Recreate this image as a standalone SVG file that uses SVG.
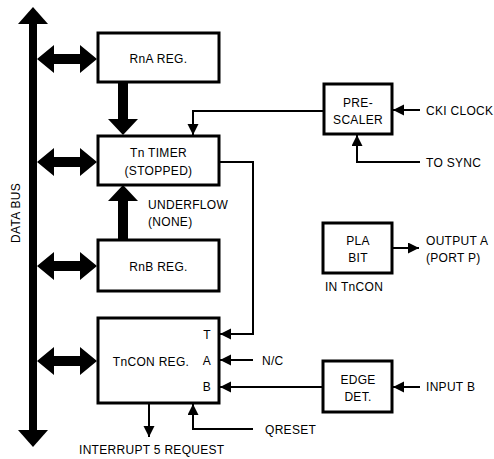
<svg xmlns="http://www.w3.org/2000/svg" width="494" height="459" viewBox="0 0 494 459">
<defs>
<marker id="ah" markerUnits="userSpaceOnUse" markerWidth="12" markerHeight="12" refX="11" refY="5.5" orient="auto">
<path d="M0,0 L11,5.5 L0,11 z" fill="#000"/>
</marker>
<style>
.box{fill:#fff;stroke:#000;stroke-width:3}
.ln{fill:none;stroke:#000;stroke-width:2}
.ar{fill:none;stroke:#000;stroke-width:2;marker-end:url(#ah)}
.t{font-family:"Liberation Sans",Arial,sans-serif;font-size:12px;fill:#000;letter-spacing:0.3px}
.c{text-anchor:middle}
.thick{fill:#000}
</style>
</defs>
<rect width="494" height="459" fill="#fff"/>

<g id="databus">
<rect x="29" y="22" width="8" height="410" class="thick"/>
<polygon points="33,7 48,24 18,24" class="thick"/>
<polygon points="33,447 48,430 18,430" class="thick"/>
<text class="t c" transform="translate(20,213) rotate(-90)">DATA BUS</text>
</g>

<g id="connectors">
<polygon class="thick" points="37,59 54,45 54,54 80,54 80,45 97,59 80,73 80,64 54,64 54,73"/>
<polygon class="thick" points="37,162 54,148 54,157 80,157 80,148 97,162 80,176 80,167 54,167 54,176"/>
<polygon class="thick" points="37,266 54,252 54,261 80,261 80,252 97,266 80,280 80,271 54,271 54,280"/>
<polygon class="thick" points="37,361 54,347 54,356 80,356 80,347 97,361 80,375 80,366 54,366 54,375"/>
<polygon class="thick" points="118,83 128,83 128,119 138,119 123,135 108,119 118,119"/>
<polygon class="thick" points="118,239 128,239 128,201 138,201 123,185 108,201 118,201"/>
<path class="ar" d="M323,111 H193 V135"/>
<path class="ar" d="M220,162 H253 V334 H220"/>
<path class="ar" d="M253,360 H220"/>
<path class="ar" d="M322,387 H220"/>
<path class="ar" d="M420,110 H393"/>
<path class="ar" d="M420,162 H357 V135"/>
<path class="ar" d="M393,248 H419"/>
<path class="ar" d="M420,387 H393"/>
<path class="ar" d="M149,404 V437"/>
<path class="ar" d="M253,429 H193 V404"/>
</g>

<g id="rna">
<rect class="box" x="98" y="33" width="121" height="49"/>
<text class="t c" x="158.5" y="63">RnA REG.</text>
</g>

<g id="timer">
<rect class="box" x="98" y="136" width="121" height="49"/>
<text class="t c" x="158.5" y="157">Tn TIMER</text>
<text class="t c" x="158.5" y="175">(STOPPED)</text>
</g>

<g id="underflow">
<text class="t" x="148" y="209">UNDERFLOW</text>
<text class="t" x="148" y="226">(NONE)</text>
</g>

<g id="rnb">
<rect class="box" x="98" y="240" width="121" height="51"/>
<text class="t c" x="158.5" y="271">RnB REG.</text>
</g>

<g id="tncon">
<rect class="box" x="98" y="318" width="121" height="85"/>
<text class="t c" x="151" y="366">TnCON REG.</text>
<text class="t c" x="207" y="339">T</text>
<text class="t c" x="207" y="365">A</text>
<text class="t c" x="207" y="391">B</text>
</g>

<g id="prescaler">
<rect class="box" x="324" y="84" width="68" height="50"/>
<text class="t c" x="358" y="107">PRE-</text>
<text class="t c" x="358" y="124">SCALER</text>
</g>

<g id="pla">
<rect class="box" x="323" y="223" width="69" height="50"/>
<text class="t c" x="358" y="245">PLA</text>
<text class="t c" x="358" y="262">BIT</text>
<text class="t c" x="354" y="291">IN TnCON</text>
</g>

<g id="edge">
<rect class="box" x="323" y="361" width="69" height="51"/>
<text class="t c" x="358" y="384">EDGE</text>
<text class="t c" x="358" y="401">DET.</text>
</g>

<g id="labels">
<text class="t" x="426" y="115">CKI CLOCK</text>
<text class="t" x="426" y="167">TO SYNC</text>
<text class="t" x="426" y="245">OUTPUT A</text>
<text class="t" x="426" y="262">(PORT P)</text>
<text class="t" x="262" y="365">N/C</text>
<text class="t" x="426" y="391">INPUT B</text>
<text class="t" x="265" y="434">QRESET</text>
<text class="t" x="79" y="454">INTERRUPT 5 REQUEST</text>
</g>
</svg>
